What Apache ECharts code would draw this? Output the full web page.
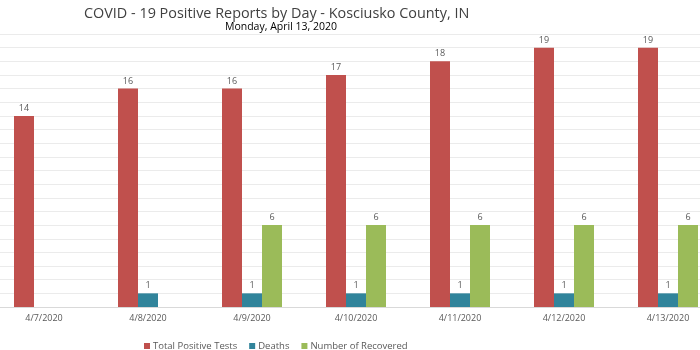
<!DOCTYPE html>
<html>
<head>
<meta charset="utf-8">
<script src="https://cdn.jsdelivr.net/npm/echarts@6/dist/echarts.min.js"></script>
<style>html,body{margin:0;padding:0;background:#fff}#c{width:700px;height:350px}</style>
</head>
<body>
<div id="c"></div>
<script>
var titleText = 'COVID - 19 Positive Reports by Day - Kosciusko County, IN';
var subtitleText = 'Monday, April 13, 2020';
var categories = ['4/7/2020', '4/8/2020', '4/9/2020', '4/10/2020', '4/11/2020', '4/12/2020', '4/13/2020'];
var totalPositive = [14, 16, 16, 17, 18, 19, 19];
var deaths = [null, 1, 1, 1, 1, 1, 1];
var recovered = [null, null, 6, 6, 6, 6, 6];
var seriesNames = ['Total Positive Tests', 'Deaths', 'Number of Recovered'];
var colors = ['#C0504D', '#31849B', '#9BBB59'];
var FONT = 'Open Sans';

function mk(name, data, color) {
  return {
    name: name, type: 'bar', data: data, barWidth: 20, barGap: '0%',
    itemStyle: { color: color },
    label: { show: true, position: 'top', distance: 3, color: '#595959', fontSize: 9, fontFamily: FONT },
    emphasis: { disabled: true }
  };
}

var chart = echarts.init(document.getElementById('c'), null, { renderer: 'canvas' });
chart.setOption({
  animation: false,
  color: colors,
  title: [
    { text: titleText, left: 79, top: 2, textStyle: { fontFamily: FONT, fontSize: 14.4, fontWeight: 'normal', color: '#404040' } },
    { text: subtitleText, left: 220, top: 17, textStyle: { fontFamily: FONT, fontSize: 10.5, fontWeight: 'normal', color: '#000000' } }
  ],
  legend: {
    left: 139, top: 336, icon: 'rect', itemWidth: 6, itemHeight: 6, itemGap: 12, itemStyle: { borderWidth: 0 },
    textStyle: { fontFamily: FONT, fontSize: 9.5, color: '#595959', padding: [0, 0, 0, -2] },
    data: seriesNames
  },
  grid: { left: -8, right: -20, top: 34, bottom: 43, outerBoundsMode: 'none' },
  xAxis: {
    type: 'category', data: categories,
    axisLine: { show: true, lineStyle: { color: '#d9d9d9' } },
    axisTick: { show: false },
    axisLabel: { color: '#595959', fontSize: 9, fontFamily: FONT, margin: 7 }
  },
  yAxis: {
    type: 'value', min: 0, max: 20, interval: 1,
    axisLabel: { show: false }, axisLine: { show: false }, axisTick: { show: false },
    splitLine: { lineStyle: { color: '#ebebeb', width: 1 } }
  },
  series: [
    mk(seriesNames[0], totalPositive, colors[0]),
    mk(seriesNames[1], deaths, colors[1]),
    mk(seriesNames[2], recovered, colors[2])
  ]
});
</script>
</body>
</html>
